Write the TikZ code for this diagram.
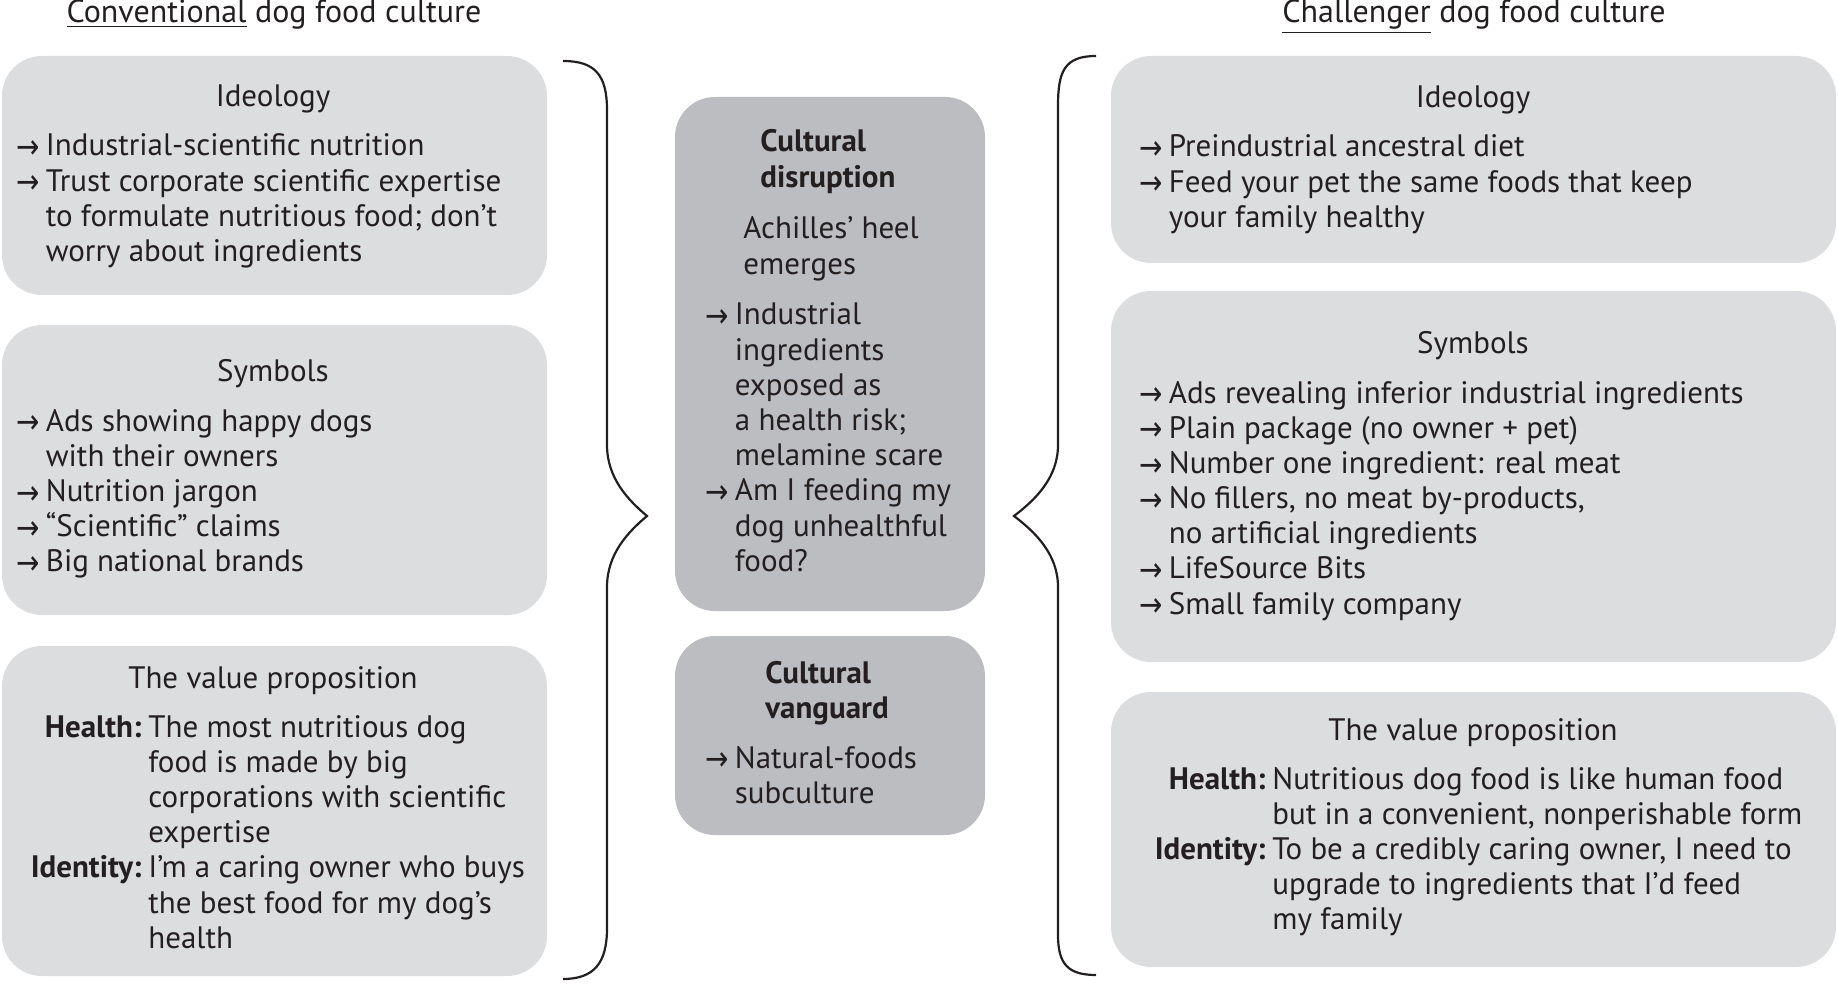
\documentclass[tikz,border=0pt]{standalone}
\usepackage{fontspec}
\setmainfont{PT Sans}
\newfontfamily\arrowfont{DejaVu Sans}
\definecolor{panelgray}{HTML}{DCDDDF}
\definecolor{midgray}{HTML}{BCBDC0}
\definecolor{ink}{HTML}{231F20}
\newcommand{\txt}{\fontsize{15.5}{17.6}\selectfont}
\newcommand{\ra}{\makebox[12.75pt][l]{\kern-1.8pt\raisebox{-1.3pt}{\scalebox{0.82}[1]{\arrowfont\fontsize{17}{17}\selectfont →}}}}
\newcommand{\lab}[1]{\makebox[60pt][r]{\bfseries #1}\kern3.5pt}
\setlength{\tabcolsep}{0pt}
\begin{document}
\begin{tikzpicture}[x=0.5pt,y=-0.5pt,text=ink,
  panel/.style={fill=panelgray,rounded corners=20pt},
  midpanel/.style={fill=midgray,rounded corners=20pt},
  head/.style={anchor=base,inner sep=0,font=\txt},
  list/.style={anchor=base west,inner sep=0,font=\txt},
  brace/.style={draw=ink,line width=1.1pt}]
\useasboundingbox(0,0)rectangle(1838,984);
\node[head,font=\fontsize{16}{18}\selectfont](tl)at(274,23){\underline{Conventional} dog food culture};
\node[head,font=\fontsize{16}{18}\selectfont](tr)at(1474,23){\underline{Challenger} dog food culture};
\path[panel](2,56)rectangle(547,295);
\path[panel](2,325)rectangle(547,615);
\path[panel](2,646)rectangle(547,976);
\path[midpanel](675,97)rectangle(985,611);
\path[midpanel](675,636)rectangle(985,835);
\path[panel](1111,56)rectangle(1836,263);
\path[panel](1111,291)rectangle(1836,662);
\path[panel](1111,692)rectangle(1836,967);
\node[head](hl1)at(273,107){Ideology};
\node[list](l1)at(20,156){\begin{tabular}[t]{@{}l@{}l@{}}
\ra&Industrial-scientific nutrition\\
\ra&Trust corporate scientific expertise\\
&to formulate nutritious food; don’t\\
&worry about ingredients\end{tabular}};
\node[head](hl2)at(273,382){Symbols};
\node[list](l2)at(20,431){\begin{tabular}[t]{@{}l@{}l@{}}
\ra&Ads showing happy dogs\\
&with their owners\\
\ra&Nutrition jargon\\
\ra&“Scientific” claims\\
\ra&Big national brands\end{tabular}};
\node[head](hl3)at(273,688){The value proposition};
\node[list](l3)at(21,737){\begin{tabular}[t]{@{}l@{}l@{}}
\lab{Health:}&The most nutritious dog\\
&food is made by big\\
&corporations with scientific\\
&expertise\\
\lab{Identity:}&I’m a caring owner who buys\\
&the best food for my dog’s\\
&health\end{tabular}};
\node[list,font=\txt\bfseries](hm1)at(760,152){\begin{tabular}[t]{@{}l@{}}Cultural\\disruption\end{tabular}};
\node[list](am1)at(743,239){\begin{tabular}[t]{@{}l@{}}Achilles’ heel\\emerges\end{tabular}};
\node[list](m1)at(709,325){\begin{tabular}[t]{@{}l@{}l@{}}
\ra&Industrial\\
&ingredients\\
&exposed as\\
&a health risk;\\
&melamine scare\\
\ra&Am I feeding my\\
&dog unhealthful\\
&food?\end{tabular}};
\node[list,font=\txt\bfseries](hm2)at(765,683){\begin{tabular}[t]{@{}l@{}}Cultural\\vanguard\end{tabular}};
\node[list](m2)at(709,768){\begin{tabular}[t]{@{}l@{}l@{}}
\ra&Natural-foods\\
&subculture\end{tabular}};
\node[head](hr1)at(1473,108){Ideology};
\node[list](r1)at(1143,157){\begin{tabular}[t]{@{}l@{}l@{}}
\ra&Preindustrial ancestral diet\\
\ra&Feed your pet the same foods that keep\\
&your family healthy\end{tabular}};
\node[head](hr2)at(1473,354){Symbols};
\node[list](r2)at(1143,403){\begin{tabular}[t]{@{}l@{}l@{}}
\ra&Ads revealing inferior industrial ingredients\\
\ra&Plain package (no owner + pet)\\
\ra&Number one ingredient: real meat\\
\ra&No fillers, no meat by-products,\\
&no artificial ingredients\\
\ra&LifeSource Bits\\
\ra&Small family company\end{tabular}};
\node[head](hr3)at(1473,740){The value proposition};
\node[list](r3)at(1145,789){\begin{tabular}[t]{@{}l@{}l@{}}
\lab{Health:}&Nutritious dog food is like human food\\
&but in a convenient, nonperishable form\\
\lab{Identity:}&To be a credibly caring owner, I need to\\
&upgrade to ingredients that I’d feed\\
&my family\end{tabular}};
\draw[brace](563,61)..controls(595,61)and(607,75)..(607,110)--(607,445)
  ..controls(607,478)and(628,500)..(647,516)..controls(628,532)and(607,554)..(607,587)
  --(607,928)..controls(607,962)and(595,979)..(563,979);
\draw[brace](1096,56)..controls(1064,56)and(1058,72)..(1058,106)--(1058,445)
  ..controls(1058,478)and(1035,500)..(1014,516)..controls(1035,532)and(1058,554)..(1058,587)
  --(1058,935)..controls(1058,964)and(1068,975)..(1096,975);
\end{tikzpicture}
\end{document}
